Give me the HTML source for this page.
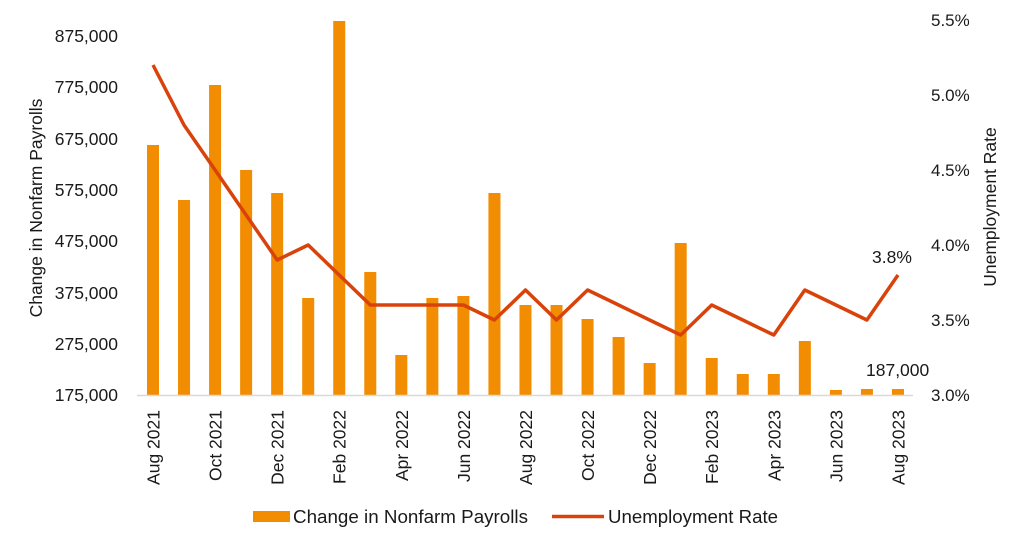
<!DOCTYPE html>
<html><head><meta charset="utf-8"><style>
body{margin:0;background:#fff}
svg{display:block;font-family:"Liberation Sans",Arial,sans-serif;fill:#1a1a1a}
</style></head><body>
<svg width="1024" height="546" viewBox="0 0 1024 546" xmlns="http://www.w3.org/2000/svg">
<g font-size="17.5" text-anchor="end">
<text x="118" y="42">875,000</text>
<text x="118" y="93">775,000</text>
<text x="118" y="145">675,000</text>
<text x="118" y="196">575,000</text>
<text x="118" y="247">475,000</text>
<text x="118" y="299">375,000</text>
<text x="118" y="350">275,000</text>
<text x="118" y="401">175,000</text>
</g>
<g font-size="17" text-anchor="start">
<text x="931" y="26">5.5%</text>
<text x="931" y="101">5.0%</text>
<text x="931" y="176">4.5%</text>
<text x="931" y="251">4.0%</text>
<text x="931" y="326">3.5%</text>
<text x="931" y="401">3.0%</text>
</g>
<text font-size="17.5" text-anchor="middle" transform="translate(42,208) rotate(-90)">Change in Nonfarm Payrolls</text>
<text font-size="17.5" text-anchor="middle" transform="translate(996,207) rotate(-90)">Unemployment Rate</text>
<g fill="#F28C00" id="bars"></g>
<line x1="137" y1="395.5" x2="913" y2="395.5" stroke="#d9d9d9" stroke-width="1.5"/>
<polyline id="ln" fill="none" stroke="#D9430B" stroke-width="3.5" stroke-linejoin="round"/>
<g id="xl" font-size="17.5" text-anchor="end"></g>
<text x="866" y="376" font-size="17.5">187,000</text>
<text x="872" y="263" font-size="17.5">3.8%</text>
<rect x="253" y="511" width="37" height="11" fill="#F28C00"/>
<text x="293" y="523" font-size="18" textLength="235" lengthAdjust="spacingAndGlyphs">Change in Nonfarm Payrolls</text>
<line x1="552" y1="516.5" x2="604" y2="516.5" stroke="#D9430B" stroke-width="3.5"/>
<text x="608" y="523" font-size="18" textLength="170" lengthAdjust="spacingAndGlyphs">Unemployment Rate</text>
<script>
var tops=[145,200,85,170,193,298,21,272,355,298,296,193,305,305,319,337,363,243,358,374,374,341,390,389,389];
var u=[5.2,4.8,4.5,4.2,3.9,4.0,3.8,3.6,3.6,3.6,3.6,3.5,3.7,3.5,3.7,3.6,3.5,3.4,3.6,3.5,3.4,3.7,3.6,3.5,3.8];
var lab={0:"Aug 2021",2:"Oct 2021",4:"Dec 2021",6:"Feb 2022",8:"Apr 2022",10:"Jun 2022",12:"Aug 2022",14:"Oct 2022",16:"Dec 2022",18:"Feb 2023",20:"Apr 2023",22:"Jun 2023",24:"Aug 2023"};
var ns="http://www.w3.org/2000/svg",b=document.getElementById("bars"),xl=document.getElementById("xl"),pts=[];
for(var i=0;i<25;i++){var x=153+i*31.04;
var r=document.createElementNS(ns,"rect");r.setAttribute("x",x-6);r.setAttribute("y",tops[i]);r.setAttribute("width",12);r.setAttribute("height",395-tops[i]);b.appendChild(r);
pts.push(x.toFixed(1)+","+(395-(u[i]-3)*150).toFixed(1));
if(lab[i]){var t=document.createElementNS(ns,"text");t.setAttribute("transform","translate("+(x+6.5)+",410) rotate(-90)");t.textContent=lab[i];xl.appendChild(t);}}
document.getElementById("ln").setAttribute("points",pts.join(" "));
</script>
</svg>
</body></html>
